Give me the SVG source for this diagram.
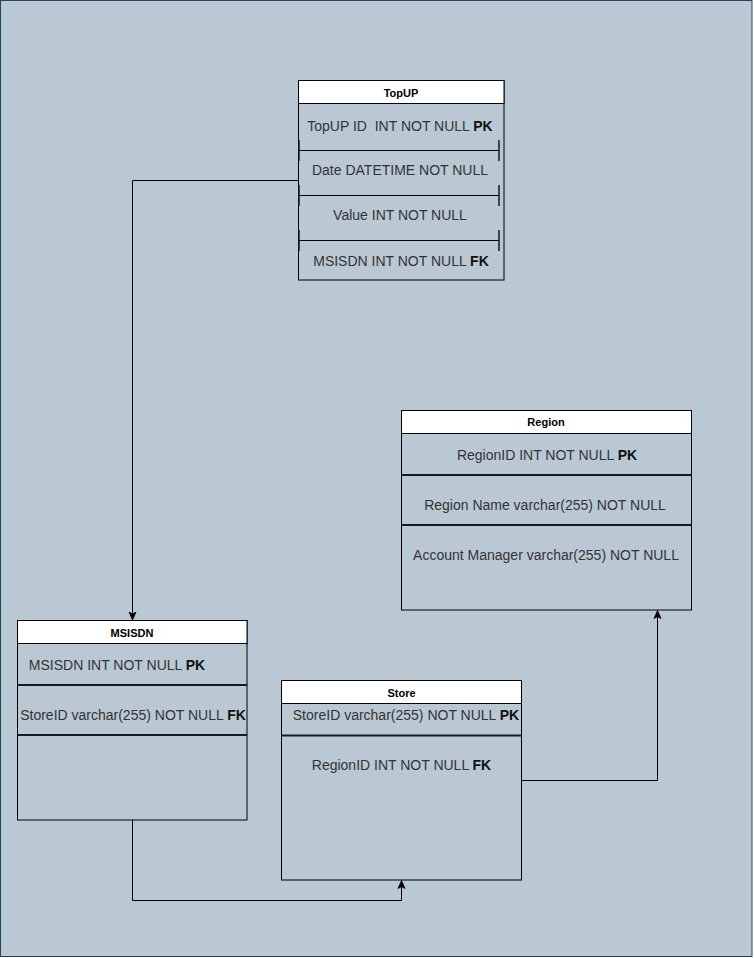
<svg xmlns="http://www.w3.org/2000/svg" width="754" height="958" viewBox="0 0 754 958">
<style>
.tbl{fill:none;stroke:#000;stroke-width:1}
.hdr{fill:#fff;stroke:#000;stroke-width:1}
.sep{stroke:#1a1a1a;stroke-width:2}
.thin{stroke:#000;stroke-width:1}
.tick{stroke:#1a1a1a;stroke-width:1.5}
.h{font-family:"Liberation Sans",Arial,sans-serif;font-size:11px;font-weight:bold;fill:#000;text-anchor:middle}
.t{font-family:"Liberation Sans",Arial,sans-serif;font-size:14px;fill:#333;text-anchor:middle;white-space:pre}
.t tspan.b{font-weight:bold;fill:#111}
.conn{fill:none;stroke:#000;stroke-width:1}
</style>
<defs>
<marker id="arr" markerUnits="userSpaceOnUse" markerWidth="9" markerHeight="9" viewBox="0 0 9 9" refX="8.5" refY="4.5" orient="auto">
<path d="M0.5,1 L8.5,4.5 L0.5,8 L2.5,4.5 Z" fill="#000" stroke="#000" stroke-width="0.8"/>
</marker>
</defs>
<rect x="0.5" y="0.5" width="751.5" height="956" fill="#bac8d3" stroke="#23445d" stroke-width="1"/>

<g id="connectors">
<path class="conn" d="M299,180.5 H132.5 V620" marker-end="url(#arr)"/>
<path class="conn" d="M132.5,820 V900.5 H401.5 V880.5" marker-end="url(#arr)"/>
<path class="conn" d="M521,780.5 H657.5 V610.5" marker-end="url(#arr)"/>
</g>

<g id="topup">
<rect class="tbl" x="298.5" y="80.5" width="205.5" height="199.5"/>
<rect class="hdr" x="298.5" y="80.5" width="205.5" height="23"/>
<text class="h" x="401" y="97">TopUP</text>
<text class="t" x="400" y="131" xml:space="preserve">TopUP ID  INT NOT NULL <tspan class="b">PK</tspan></text>
<line class="thin" x1="299" y1="150.5" x2="499" y2="150.5"/>
<line class="tick" x1="299" y1="140" x2="299" y2="161"/>
<line class="tick" x1="499" y1="140" x2="499" y2="161"/>
<text class="t" x="400" y="175">Date DATETIME NOT NULL</text>
<line class="thin" x1="299" y1="195.5" x2="499" y2="195.5"/>
<line class="tick" x1="299" y1="185" x2="299" y2="206"/>
<line class="tick" x1="499" y1="185" x2="499" y2="206"/>
<text class="t" x="400" y="220">Value INT NOT NULL</text>
<line class="thin" x1="299" y1="240.5" x2="499" y2="240.5"/>
<line class="tick" x1="299" y1="230" x2="299" y2="251"/>
<line class="tick" x1="499" y1="230" x2="499" y2="251"/>
<text class="t" x="401" y="266">MSISDN INT NOT NULL <tspan class="b">FK</tspan></text>
</g>

<g id="region">
<rect class="tbl" x="401.5" y="410.5" width="290" height="199.5"/>
<rect class="hdr" x="401.5" y="410.5" width="290" height="23"/>
<text class="h" x="546" y="426">Region</text>
<text class="t" x="547" y="460">RegionID INT NOT NULL <tspan class="b">PK</tspan></text>
<line class="sep" x1="402" y1="475" x2="691" y2="475"/>
<text class="t" x="545" y="510">Region Name varchar(255) NOT NULL</text>
<line class="sep" x1="402" y1="525" x2="691" y2="525"/>
<text class="t" x="546" y="560">Account Manager varchar(255) NOT NULL</text>
</g>

<g id="msisdn">
<rect class="tbl" x="17.5" y="620.5" width="229.5" height="199.5"/>
<rect class="hdr" x="17.5" y="620.5" width="229.5" height="23"/>
<text class="h" x="132" y="637">MSISDN</text>
<text class="t" x="117" y="670">MSISDN INT NOT NULL <tspan class="b">PK</tspan></text>
<line class="sep" x1="18" y1="685" x2="247" y2="685"/>
<text class="t" x="133" y="720">StoreID varchar(255) NOT NULL <tspan class="b">FK</tspan></text>
<line class="sep" x1="18" y1="735" x2="247" y2="735"/>
</g>

<g id="store">
<rect class="tbl" x="281.5" y="680.5" width="240" height="199.5"/>
<rect class="hdr" x="281.5" y="680.5" width="240" height="23"/>
<text class="h" x="401.5" y="697">Store</text>
<text class="t" x="406" y="720">StoreID varchar(255) NOT NULL <tspan class="b">PK</tspan></text>
<line class="sep" x1="282" y1="735.5" x2="521" y2="735.5"/>
<text class="t" x="401.5" y="770">RegionID INT NOT NULL <tspan class="b">FK</tspan></text>
</g>
</svg>
